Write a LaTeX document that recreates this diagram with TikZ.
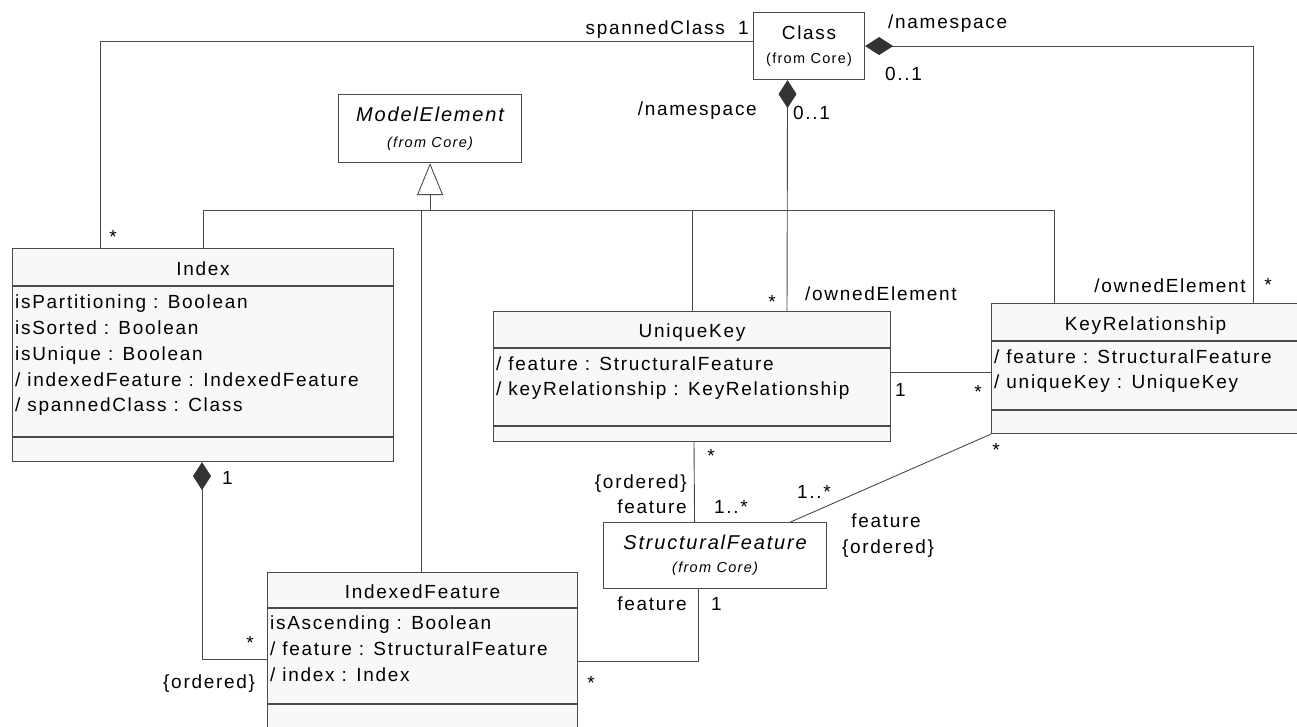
\documentclass[tikz,border=0pt]{standalone}
\usepackage{fontspec}
\setmainfont{Liberation Sans}[LetterSpace=9]
\usetikzlibrary{arrows.meta,calc}

\definecolor{boxfill}{HTML}{F8F8F8}
\definecolor{edge}{HTML}{4A4A4A}
\definecolor{diam}{HTML}{333333}

\begin{document}
\begin{tikzpicture}[x=1pt,y=-1pt,
  umlbox/.style={draw=edge, line width=1.1pt, fill=boxfill, inner sep=0pt, anchor=north west},
  refbox/.style={draw=edge, line width=1.1pt, fill=white, inner sep=0pt, anchor=north west},
  divider/.style={draw=edge, line width=1.1pt},
  conn/.style={draw=edge, line width=0.9pt},
  comp/.style={conn, {Diamond[length=28pt,width=18pt,fill=diam,color=diam]}-},
  gen/.style={conn, -{Triangle[open,length=32pt,width=26pt,fill=white]}},
  txt/.style={font=\fontsize{19}{22}\selectfont, inner sep=0pt},
  attr/.style={txt, anchor=base west},
  cname/.style={txt, anchor=base},
  aname/.style={font=\fontsize{20}{24}\selectfont\itshape, inner sep=0pt, anchor=base},
  fromcore/.style={font=\fontsize{14.5}{17}\selectfont, inner sep=0pt, anchor=base},
  lab/.style={txt, anchor=base west},
  labr/.style={txt, anchor=base east},
  labc/.style={txt, anchor=base},
  star/.style={txt, anchor=base}
]
\useasboundingbox (0,0) rectangle (1297,726);
\clip (0,0) rectangle (1297,726);

% ---- classes ----
\node[refbox, minimum width=111pt, minimum height=67pt] (cls) at (753,12) {};
\node[cname] at ($(cls.north)+(0,27)$) {Class};
\node[fromcore] at ($(cls.north)+(0,51)$) {(from Core)};

\node[refbox, minimum width=183pt, minimum height=68pt] (me) at (338,94) {};
\node[aname] at ($(me.north)+(0,27)$) {ModelElement};
\node[fromcore, font=\fontsize{14.5}{17}\selectfont\itshape] at ($(me.north)+(0,53)$) {(from Core)};

\node[refbox, minimum width=223pt, minimum height=66pt] (sf) at (603,522) {};
\node[aname] at ($(sf.north)+(0,27)$) {StructuralFeature};
\node[fromcore, font=\fontsize{14.5}{17}\selectfont\itshape] at ($(sf.north)+(0,50)$) {(from Core)};

% Index
\node[umlbox, minimum width=381pt, minimum height=213pt] (index) at (12,248) {};
\draw[divider] ([yshift=-38pt]index.north west) -- ([yshift=-38pt]index.north east);
\draw[divider] ([yshift=-189pt]index.north west) -- ([yshift=-189pt]index.north east);
\node[cname] at ($(index.north)+(0,27)$) {Index};
\node[attr] at ($(index.north west)+(3,60)$) {isPartitioning : Boolean};
\node[attr] at ($(index.north west)+(3,86)$) {isSorted : Boolean};
\node[attr] at ($(index.north west)+(3,112)$) {isUnique : Boolean};
\node[attr] at ($(index.north west)+(3,138)$) {/ indexedFeature : IndexedFeature};
\node[attr] at ($(index.north west)+(3,163)$) {/ spannedClass : Class};

% UniqueKey
\node[umlbox, minimum width=397pt, minimum height=130pt] (uk) at (493,311) {};
\draw[divider] ([yshift=-37pt]uk.north west) -- ([yshift=-37pt]uk.north east);
\draw[divider] ([yshift=-115pt]uk.north west) -- ([yshift=-115pt]uk.north east);
\node[cname] at ($(uk.north)+(0,26)$) {UniqueKey};
\node[attr] at ($(uk.north west)+(3,59)$) {/ feature : StructuralFeature};
\node[attr] at ($(uk.north west)+(3,84)$) {/ keyRelationship : KeyRelationship};

% KeyRelationship
\node[umlbox, minimum width=308pt, minimum height=130pt] (kr) at (991,303) {};
\draw[divider] ([yshift=-38pt]kr.north west) -- ([yshift=-38pt]kr.north east);
\draw[divider] ([yshift=-107pt]kr.north west) -- ([yshift=-107pt]kr.north east);
\node[cname] at ($(kr.north)+(0,27)$) {KeyRelationship};
\node[attr] at ($(kr.north west)+(3,60)$) {/ feature : StructuralFeature};
\node[attr] at ($(kr.north west)+(3,85)$) {/ uniqueKey : UniqueKey};

% IndexedFeature
\node[umlbox, minimum width=310pt, minimum height=170pt] (ixf) at (267,572) {};
\draw[divider] ([yshift=-36pt]ixf.north west) -- ([yshift=-36pt]ixf.north east);
\draw[divider] ([yshift=-132pt]ixf.north west) -- ([yshift=-132pt]ixf.north east);
\node[cname] at ($(ixf.north)+(0,26)$) {IndexedFeature};
\node[attr] at ($(ixf.north west)+(3,57)$) {isAscending : Boolean};
\node[attr] at ($(ixf.north west)+(3,83)$) {/ feature : StructuralFeature};
\node[attr] at ($(ixf.north west)+(3,109)$) {/ index : Index};

% ---- generalization tree ----
\coordinate (hline) at (0,210);
\coordinate (hub) at (me.south |- hline);
\draw[conn] ([xshift=191pt]index.north west) |- (hub);
\draw[conn] ([xshift=154pt]ixf.north west) |- (hub);
\draw[conn] ([xshift=199pt]uk.north west) |- (hub);
\draw[conn] ([xshift=63pt]kr.north west) |- (hub);
\draw[gen] (hub) -- (me.south);

% ---- associations ----
% Class -- Index
\draw[conn] ([yshift=4.5pt]cls.west) -| ([xshift=88pt]index.north west);
\node[labr] at (725,34) {spannedClass};
\node[lab] at (738,34) {1};
\node[star] at (113,243) {*};

% Class <>-- UniqueKey
\draw[comp] ([xshift=-21.5pt]cls.south) -- ([xshift=294pt]uk.north west);
\node[labr] at (757,115) {/namespace};
\node[lab] at (793,119) {0..1};
\node[lab] at (805,300) {/ownedElement};
\node[star] at (772,308) {*};

% Class <>-- KeyRelationship
\draw[comp] (cls.east) -| ([xshift=262pt]kr.north west);
\node[lab] at (888,28) {/namespace};
\node[lab] at (885,80) {0..1};
\node[labr] at (1246,292) {/ownedElement};
\node[star] at (1268,291) {*};

% UniqueKey -- KeyRelationship
\draw[conn] ([yshift=4pt]uk.east) -- ([yshift=-4pt]kr.west);
\node[lab] at (895,396) {1};
\node[star] at (978,398) {*};

% UniqueKey -- StructuralFeature
\draw[conn] ([xshift=201pt]uk.south west) -- ([xshift=-20.5pt]sf.north);
\node[star] at (711,462) {*};
\node[labr] at (687,488) {\{ordered\}};
\node[labr] at (687,513) {feature};
\node[lab] at (714,513) {1..*};

% KeyRelationship -- StructuralFeature
\draw[conn] (kr.south west) -- ([xshift=75.5pt]sf.north);
\node[star] at (996,456) {*};
\node[lab] at (797,498) {1..*};
\node[labc] at (886,527) {feature};
\node[labc] at (888,553) {\{ordered\}};

% IndexedFeature -- StructuralFeature
\draw[conn] ([yshift=-89pt]ixf.north east) -| ([xshift=-16.5pt]sf.south);
\node[labr] at (687,610) {feature};
\node[lab] at (711,610) {1};
\node[star] at (591,689) {*};

% Index <>-- IndexedFeature
\draw[comp] ([xshift=190pt]index.south west) |- ([yshift=-87pt]ixf.north west);
\node[lab] at (222,484) {1};
\node[star] at (250,649) {*};
\node[lab] at (163,688) {\{ordered\}};
\end{tikzpicture}
\end{document}
